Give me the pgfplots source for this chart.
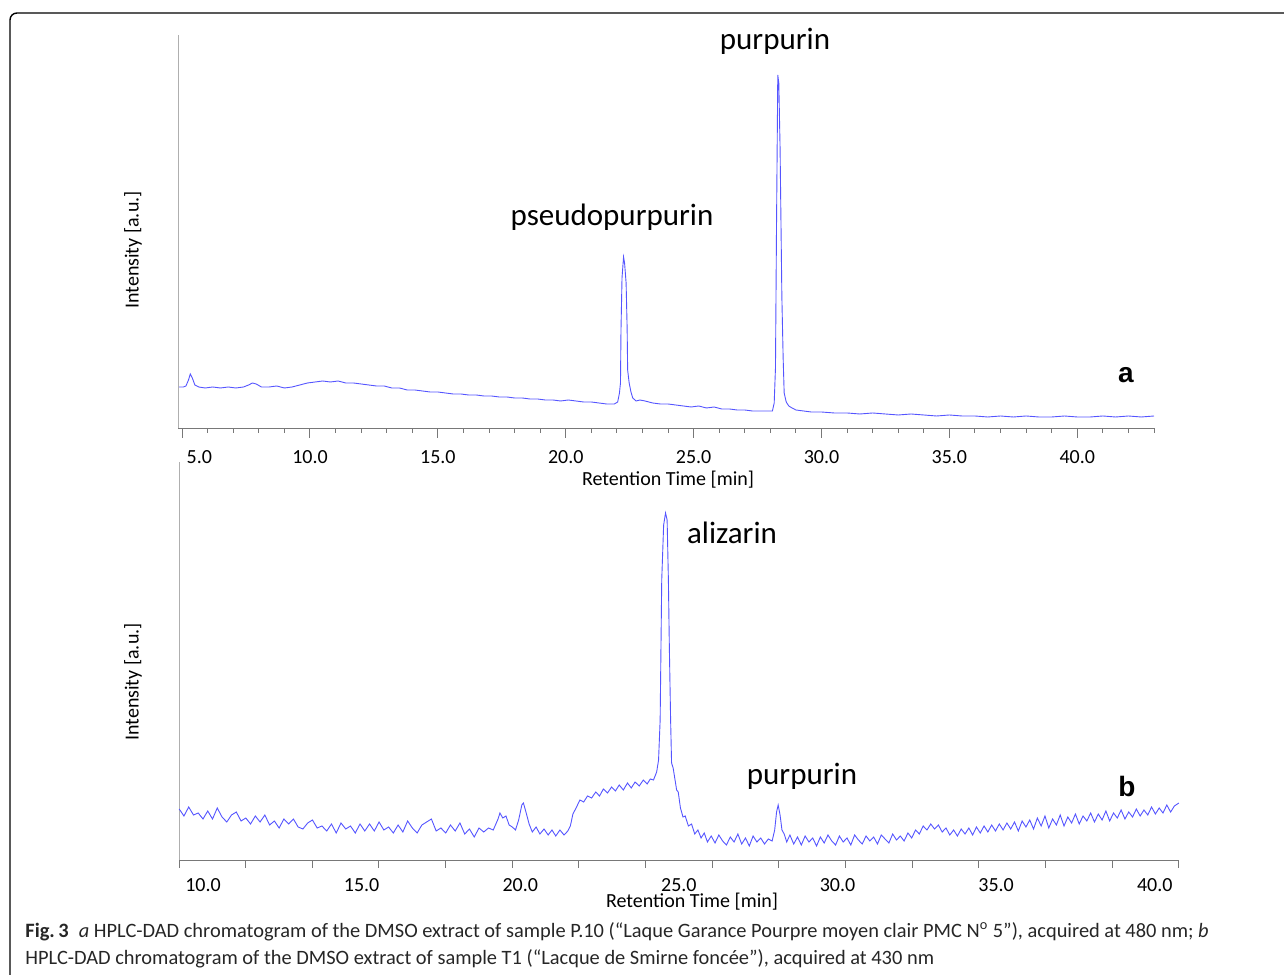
\documentclass[border=0pt]{standalone}
\usepackage{pgfplots}
\pgfplotsset{compat=1.18}
\usepackage{fontspec}
\setmainfont{Carlito}
\newfontfamily\arialfont{Liberation Sans}
\definecolor{trace}{RGB}{85,85,255}
\definecolor{axisgray}{RGB}{120,120,120}
\definecolor{yaxgray}{RGB}{175,175,175}

% chromatogram a (480 nm), intensity in arbitrary units
\pgfplotstableread{
t y
4.88 41
5.05 41
5.15 42
5.25 48
5.32 54
5.40 50
5.50 43
5.65 41
5.90 40
6.20 41
6.50 40
6.80 41
7.10 40
7.40 41
7.60 43
7.75 45
7.90 44
8.10 41
8.40 41
8.70 42
9.00 40
9.30 41
9.60 43
9.90 45
10.20 46
10.50 47
10.80 46
11.10 47
11.40 45
11.70 45
12.00 44
12.30 43
12.60 42
12.90 42
13.20 40
13.50 40
13.80 38
14.10 38
14.40 37
14.70 36
15.00 36
15.30 35
15.60 34
15.90 34
16.20 33
16.50 33
16.80 32
17.10 32
17.40 31
17.70 31
18.00 30
18.30 30
18.60 29
18.90 29
19.20 28
19.50 28
19.80 27
20.10 28
20.40 27
20.70 26
21.00 26
21.30 25
21.60 24
21.90 24
22.03 26
22.10 35
22.14 45
22.16 98
22.20 150
22.26 171
22.30 165
22.36 145
22.40 100
22.42 58
22.48 45
22.55 36
22.62 30
22.75 27
22.90 28
23.10 27
23.40 25
23.70 24
24.00 24
24.30 23
24.60 22
24.90 21
25.20 22
25.50 20
25.80 21
26.10 19
26.40 19
26.70 18
27.00 18
27.30 17
27.60 17
27.90 17
28.08 17
28.15 25
28.20 60
28.24 200
28.29 353
28.33 345
28.38 280
28.45 131
28.50 70
28.54 35
28.62 26
28.72 22
28.85 20
29.00 18
29.30 17
29.60 16
30.00 16
30.50 15
31.00 15
31.50 14
32.00 15
32.50 14
33.00 13
33.50 14
34.00 13
34.50 12
35.00 13
35.50 12
36.00 12
36.50 11
37.00 12
37.50 11
38.00 12
38.50 11
39.00 11
39.50 12
40.00 11
40.50 11
41.00 12
41.50 11
42.00 12
42.50 11
43.00 12
}\chromA

% chromatogram b (430 nm)
\pgfplotstableread{
t y
9.25 51
9.40 44
9.55 53
9.70 45
9.85 47
10.00 41
10.15 49
10.30 41
10.45 52
10.60 43
10.75 38
10.90 45
11.05 48
11.20 39
11.35 42
11.50 36
11.65 44
11.80 38
11.95 45
12.10 35
12.25 39
12.40 32
12.55 41
12.70 36
12.85 41
13.00 33
13.15 31
13.30 37
13.45 40
13.60 32
13.75 34
13.90 29
14.05 36
14.20 27
14.35 37
14.50 31
14.65 34
14.80 27
14.95 36
15.10 29
15.25 36
15.40 29
15.55 38
15.70 30
15.85 33
16.00 27
16.15 35
16.30 28
16.45 39
16.60 32
16.75 27
16.90 35
17.05 38
17.20 41
17.35 29
17.50 32
17.65 27
17.80 35
17.95 29
18.10 37
18.25 26
18.40 31
18.55 23
18.70 32
18.85 28
19.00 32
19.15 30
19.30 41
19.36 47
19.45 42
19.55 44
19.65 35
19.75 33
19.85 30
19.95 40
20.05 55
20.10 57
20.18 48
20.28 36
20.38 28
20.50 33
20.62 26
20.75 31
20.88 25
21.00 30
21.12 24
21.25 30
21.38 25
21.50 29
21.58 34
21.66 46
21.76 52
21.88 60
22.00 58
22.12 64
22.25 62
22.38 68
22.50 64
22.62 71
22.75 67
22.88 73
23.00 69
23.12 75
23.25 70
23.38 77
23.50 72
23.62 78
23.75 74
23.88 80
24.00 76
24.10 81
24.20 80
24.30 88
24.36 100
24.41 140
24.46 280
24.52 335
24.58 347
24.63 340
24.67 280
24.70 213
24.74 140
24.77 97
24.82 92
24.88 80
24.93 70
24.98 68
25.05 52
25.13 43
25.20 44
25.30 34
25.40 36
25.50 26
25.60 30
25.70 22
25.80 27
25.90 18
26.02 24
26.14 17
26.26 25
26.38 19
26.50 15
26.62 23
26.74 18
26.86 26
26.98 16
27.10 22
27.22 14
27.34 24
27.46 18
27.58 22
27.70 16
27.82 21
27.94 19
28.02 30
28.08 48
28.13 55
28.19 45
28.25 30
28.32 26
28.40 18
28.50 25
28.62 16
28.74 23
28.86 15
28.98 24
29.10 18
29.22 22
29.34 14
29.46 23
29.58 17
29.70 25
29.82 19
29.94 15
30.06 24
30.18 18
30.30 22
30.42 15
30.54 25
30.66 20
30.78 16
30.90 24
31.02 19
31.14 23
31.26 16
31.38 25
31.50 21
31.62 17
31.74 26
31.86 20
31.98 24
32.10 19
32.22 27
32.34 22
32.46 30
32.58 26
32.70 34
32.82 30
32.94 36
33.06 31
33.18 35
33.30 28
33.42 32
33.54 25
33.66 30
33.78 24
33.90 31
34.02 26
34.14 32
34.26 25
34.38 33
34.50 27
34.62 34
34.74 28
34.86 35
34.98 29
35.10 36
35.22 30
35.34 37
35.46 31
35.58 38
35.70 29
35.82 39
35.94 33
36.06 40
36.18 31
36.30 42
36.42 34
36.54 44
36.66 32
36.78 41
36.90 35
37.02 45
37.14 34
37.26 43
37.38 37
37.50 46
37.62 36
37.74 44
37.86 39
37.98 47
38.10 38
38.22 46
38.34 40
38.46 49
38.58 39
38.70 47
38.82 42
38.94 50
39.06 41
39.18 48
39.30 43
39.42 51
39.54 44
39.66 50
39.78 45
39.90 53
40.02 46
40.14 52
40.26 47
40.38 55
40.50 48
40.62 54
40.76 57
}\chromB

\pgfplotsset{
  chrom/.style={
    scale only axis, clip=false,
    axis x line=bottom, axis y line=left,
    x axis line style={-, draw=axisgray},
    y axis line style={-, draw=yaxgray},
    ytick=\empty, ymin=0,
    tick align=outside,
    tick style={axisgray, line width=0.5pt},
    xticklabel style={font=\fontsize{10}{12}\selectfont, anchor=base, text=black},
  },
}

\begin{document}
\begin{tikzpicture}
\begin{scope}[x=0.5pt,y=0.5pt]
\useasboundingbox (0,0) rectangle (1284,974);
% frame
\draw[line width=0.7pt, rounded corners=3.5pt] (10,-2) -- (10,961) -- (1286,961);
\end{scope}

% --- panel a ---  (1 px = 0.5 pt)
\begin{axis}[chrom,
  at={(89pt,273pt)}, anchor=south west,
  width=488pt, height=196.5pt,
  xmin=4.84, xmax=43, ymax=393,
  xtick={5,10,...,40},
  xticklabels={\makebox[0pt][l]{\hspace{2.3pt}5.0},10.0,15.0,20.0,25.0,30.0,35.0,40.0},
  minor xtick={5,...,43},
  major tick length=5pt, minor tick length=2.5pt,
  xticklabel style={yshift=-13pt},
]
\addplot[trace, line width=0.45pt] table[x=t,y=y] {\chromA};
\end{axis}

% --- panel b ---
\begin{axis}[chrom,
  at={(89.5pt,57pt)}, anchor=south west,
  width=500pt, height=199pt,
  xmin=9.244, xmax=40.765, ymax=398,
  xtick={10,15,...,40},
  xticklabels={10.0,15.0,20.0,25.0,30.0,35.0,40.0},
  minor xtick={9.244,11.345,13.447,15.548,17.649,19.751,21.852,23.953,26.054,28.156,30.257,32.358,34.460,36.561,38.662,40.764},
  major tick length=0pt, minor tick length=4pt,
  xticklabel style={yshift=-16pt},
]
\addplot[trace, line width=0.45pt] table[x=t,y=y] {\chromB};
\end{axis}

\begin{scope}[x=0.5pt,y=0.5pt]
% axis titles
\node[font=\fontsize{10}{12}\selectfont, anchor=base] at (668,974-486) {Retention Time [min]};
\node[font=\fontsize{10}{12}\selectfont, anchor=base] at (692,974-907) {Retention Time [min]};
\node[font=\fontsize{10}{12}\selectfont, rotate=90] at (133,974-250) {Intensity [a.u.]};
\node[font=\fontsize{10}{12}\selectfont, rotate=90] at (133,974-682) {Intensity [a.u.]};

% peak labels
\node[font=\fontsize{15.5}{18}\selectfont] at (775,974-41) {purpurin};
\node[font=\fontsize{15.5}{18}\selectfont] at (612,974-217) {pseudopurpurin};
\node[font=\fontsize{15.5}{18}\selectfont] at (732,974-533) {alizarin};
\node[font=\fontsize{15.5}{18}\selectfont] at (802,974-776) {purpurin};
\node[font=\arialfont\bfseries\fontsize{14}{16}\selectfont] at (1126,974-375) {a};
\node[font=\arialfont\bfseries\fontsize{14}{16}\selectfont] at (1127,974-786) {b};

% caption
\node[anchor=base west, inner sep=0pt, font=\fontsize{10.2}{12}\selectfont, text=black!85] at (25,974-937)
  {{\bfseries Fig.\,3}\enspace\textit{a} HPLC-DAD chromatogram of the DMSO extract of sample P.10 (“Laque Garance Pourpre moyen clair PMC N\textsuperscript{o} 5”), acquired at 480 nm; \textit{b}};
\node[anchor=base west, inner sep=0pt, font=\fontsize{10.2}{12}\selectfont, text=black!85] at (25,974-964)
  {HPLC-DAD chromatogram of the DMSO extract of sample T1 (“Lacque de Smirne foncée”), acquired at 430 nm};
\end{scope}
\end{tikzpicture}
\end{document}
